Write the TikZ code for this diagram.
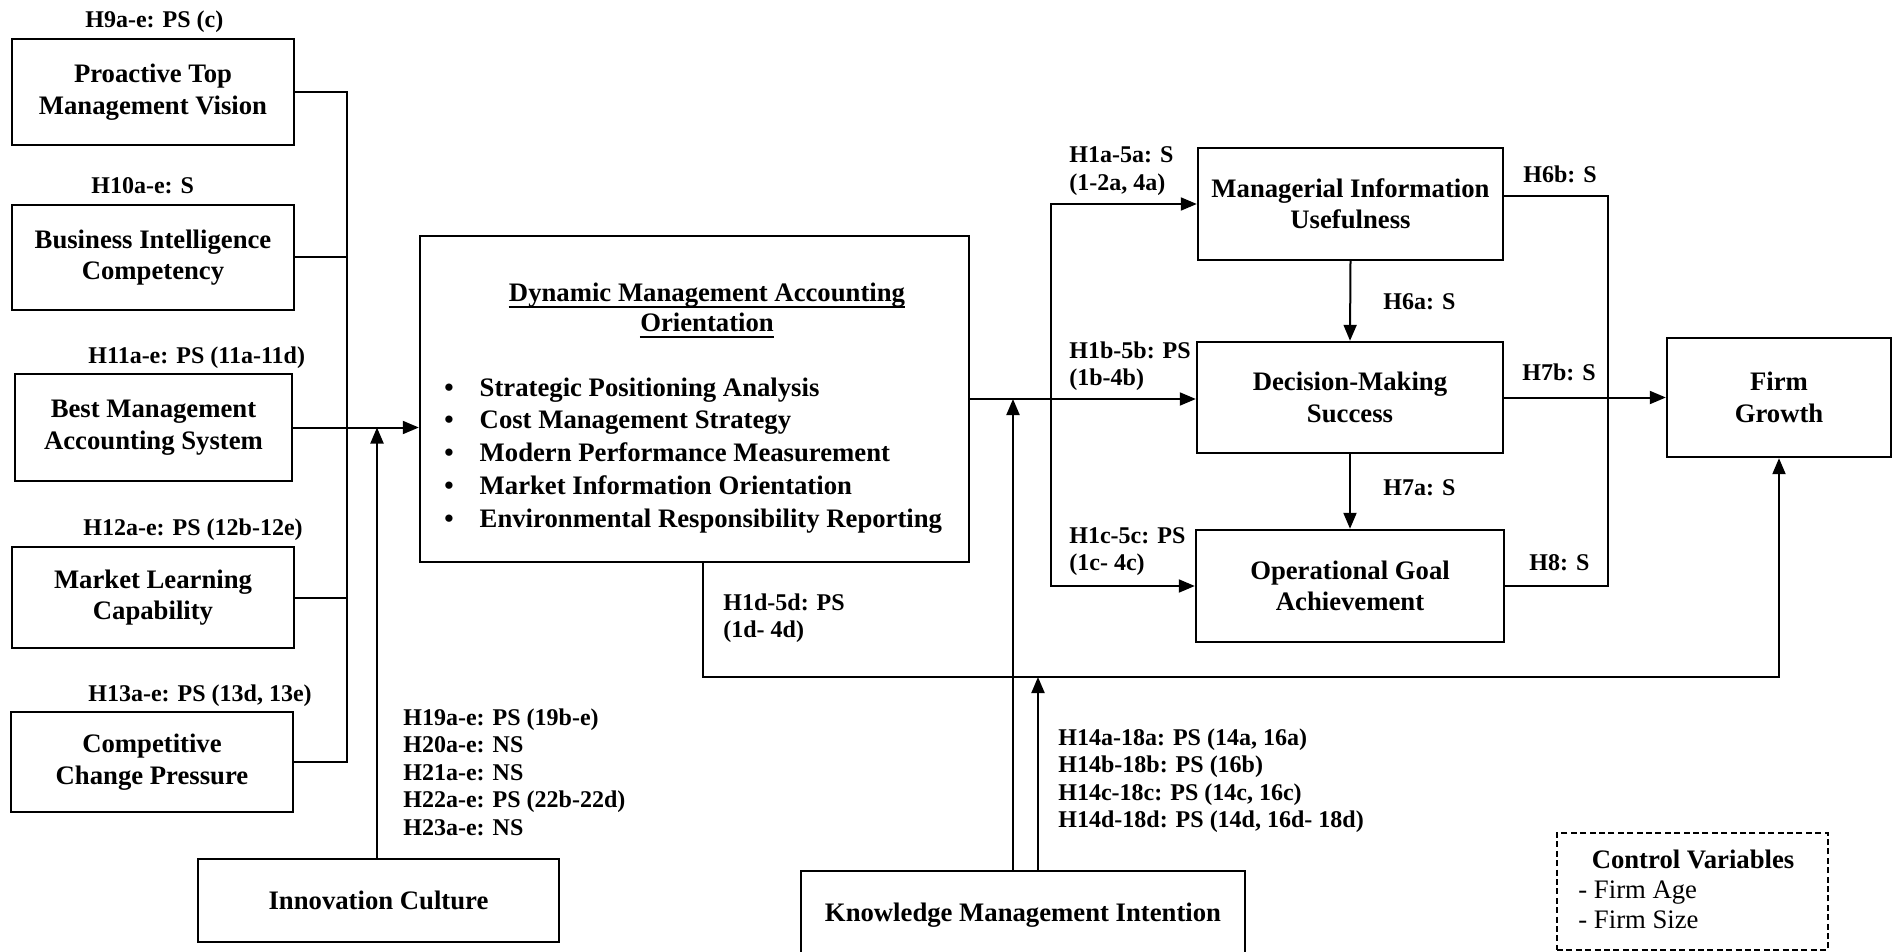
\documentclass[tikz,border=0pt]{standalone}
\usepackage{fontspec}
\setmainfont{Liberation Serif}
\usetikzlibrary{arrows.meta,calc}
\newcommand\bxfont{\fontsize{13.35}{15.75}\selectfont\bfseries}
\newcommand\lbfont{\fontsize{12}{13.75}\selectfont\bfseries}
\newcommand\lbstack[1]{\begin{tabular}[t]{@{}l@{}}#1\end{tabular}}
\begin{document}
\begin{tikzpicture}[x=0.5pt,y=-0.5pt,
  box/.style={draw, line width=1.2pt, inner sep=0pt, align=center, font=\bxfont},
  bsize/.style 2 args={minimum width=#1*0.5pt, minimum height=#2*0.5pt},
  conn/.style={line width=1pt},
  arr/.style={conn, -{Triangle[length=8pt,width=6.5pt]}},
  lbl/.style={inner sep=0pt, anchor=base west, font=\lbfont},
  txt/.style={inner sep=0pt, font=\bxfont},
]
\useasboundingbox (0,0) rectangle (1896,952);
\fill[white] (0,0) rectangle (1896,952);
\clip (0,0) rectangle (1896,952);

% antecedent constructs
\node[box,bsize={282}{106}] (pv) at (153,92) {Proactive Top\\Management Vision};
\node[box,bsize={282}{105}] (bi) at (153,257.5) {Business Intelligence\\Competency};
\node[box,bsize={277}{107}] (bmas) at (153.5,427.5) {Best Management\\Accounting System};
\node[box,bsize={282}{101}] (mlc) at (153,597.5) {Market Learning\\Capability};
\node[box,bsize={282}{100}] (ccp) at (152,762) {Competitive\\Change Pressure};
\node[box,bsize={361}{83}] (ic) at (378.5,900.5) {Innovation Culture};

% central construct
\node[box,bsize={549}{326}] (dmao) at (694.5,399) {};
\node[txt,anchor=base] (dmt1) at (707,302) {Dynamic Management Accounting};
\node[txt,anchor=base] (dmt2) at (707,332) {Orientation};
\draw[line width=1pt] ([yshift=-2.5pt]dmt1.base west) -- ([yshift=-2.5pt]dmt1.base east);
\draw[line width=1pt] ([yshift=-2.5pt]dmt2.base west) -- ([yshift=-2.5pt]dmt2.base east);
\node[txt,anchor=base west] (dmb) at (444,396) {\fontsize{13.35}{16.4}\selectfont
  \begin{tabular}[t]{@{}l@{\hspace{13pt}}l@{}}
  \textbullet & Strategic Positioning Analysis\\
  \textbullet & Cost Management Strategy\\
  \textbullet & Modern Performance Measurement\\
  \textbullet & Market Information Orientation\\
  \textbullet & Environmental Responsibility Reporting
  \end{tabular}};

% outcome constructs
\node[box,bsize={305}{112}] (miu) at (1350.5,204) {Managerial Information\\Usefulness};
\node[box,bsize={306}{111}] (dms) at (1350,397.5) {Decision-Making\\Success};
\node[box,bsize={308}{112}] (oga) at (1350,586) {Operational Goal\\Achievement};
\node[box,bsize={224}{119}] (fg) at (1779,397.5) {Firm\\Growth};
\node[box,bsize={444}{88}] (kmi) at (1023,915) {Knowledge Management Intention};

% control variables
\node[draw,line width=1pt,dash pattern=on 3pt off 1.7pt,inner sep=0pt,bsize={271}{117}] (cv) at (1692.5,891.5) {};
\node[txt,anchor=base] (cvt) at (1693,868) {Control Variables};
\node[inner sep=0pt,anchor=base west,font=\fontsize{13.35}{15.75}\selectfont] (cva) at (1578,898) {- Firm Age};
\node[inner sep=0pt,anchor=base west,font=\fontsize{13.35}{15.75}\selectfont] (cvs) at (1578,928) {- Firm Size};

% hypothesis labels
\node[lbl] (h9) at (85,28) {H9a-e: PS (c)};
\node[lbl] (h10) at (91,194) {H10a-e: S};
\node[lbl] (h11) at (88,364) {H11a-e: PS (11a-11d)};
\node[lbl] (h12) at (83,535) {H12a-e: PS (12b-12e)};
\node[lbl] (h13) at (88,701) {H13a-e: PS (13d, 13e)};
\node[lbl] (h19) at (403,725) {\lbstack{H19a-e: PS (19b-e)\\H20a-e: NS\\H21a-e: NS\\H22a-e: PS (22b-22d)\\H23a-e: NS}};
\node[lbl] (h1a) at (1069,163) {\lbstack{H1a-5a: S\\(1-2a, 4a)}};
\node[lbl] (h1b) at (1069,358) {\lbstack{H1b-5b: PS\\(1b-4b)}};
\node[lbl] (h1c) at (1069,543) {\lbstack{H1c-5c: PS\\(1c- 4c)}};
\node[lbl] (h1d) at (723,610) {\lbstack{H1d-5d: PS\\(1d- 4d)}};
\node[lbl] (h6a) at (1383,310) {H6a: S};
\node[lbl] (h7a) at (1383,495) {H7a: S};
\node[lbl] (h6b) at (1523,183) {H6b: S};
\node[lbl] (h7b) at (1522,380) {H7b: S};
\node[lbl] (h8) at (1529,570) {H8: S};
\node[lbl] (h14) at (1058,745) {\lbstack{H14a-18a: PS (14a, 16a)\\H14b-18b: PS (16b)\\H14c-18c: PS (14c, 16c)\\H14d-18d: PS (14d, 16d- 18d)}};

% helper coordinates for bus lines
\coordinate (busx) at (347,0);
\coordinate (icx) at (377,0);
\coordinate (jx) at (1051,0);
\coordinate (k1) at (1013,0);
\coordinate (k2) at (1038,0);
\coordinate (bl) at (703,677);
\coordinate (rbx) at (1608,0);

% connectors
\draw[conn] (pv.east) -- (pv.east -| busx) -- (ccp.east -| busx) -- (ccp.east);
\draw[conn] (bi.east) -- (bi.east -| busx);
\draw[conn] (mlc.east) -- (mlc.east -| busx);
\draw[arr] (bmas.east) -- (bmas.east -| dmao.west);
\draw[arr] (ic.north -| icx) -- (icx |- bmas.east);

\draw[arr] (dmao.east) -- (dmao.east -| dms.west);
\draw[arr] (jx |- dmao.east) |- (miu.west);
\draw[arr] (jx |- dmao.east) |- (oga.west);
\draw[arr] (kmi.north -| k1) -- (k1 |- dmao.east);
\draw[arr] (kmi.north -| k2) -- (k2 |- bl);
\draw[arr] (dmao.south -| bl) -- (bl) -| (fg.south);

\draw[arr] (miu.south) -- (dms.north);
\draw[arr] (dms.south) -- (oga.north);
\draw[arr] (dms.east) -- (fg.west);
\draw[conn] ($(miu.east)+(0,-8)$) coordinate (m1) -- (m1 -| rbx) -- (rbx |- oga.east) -- (oga.east);
\end{tikzpicture}
\end{document}
